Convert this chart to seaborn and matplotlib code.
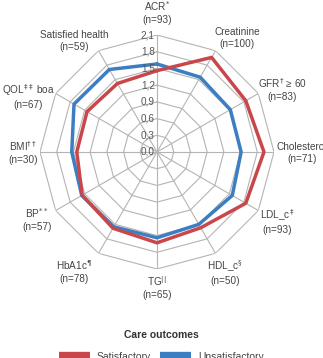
import numpy as np
import pandas as pd
import matplotlib
matplotlib.use("Agg")
import matplotlib.pyplot as plt
import seaborn as sns
from matplotlib.lines import Line2D
from matplotlib.transforms import offset_copy

categories = [
    r"ACR$^{*}$" + "\n(n=93)",
    "Creatinine\n(n=100)",
    r"GFR$^{\dagger}$ ≥ 60" + "\n(n=83)",
    "Cholesterol\n(n=71)",
    r"LDL_c$^{\ddagger}$" + "\n(n=93)",
    r"HDL_c$^{\S}$" + "\n(n=50)",
    r"TG$^{||}$" + "\n(n=65)",
    r"HbA1c$^{\P}$" + "\n(n=78)",
    r"BP$^{**}$" + "\n(n=57)",
    r"BMI$^{\dagger\dagger}$" + "\n(n=30)",
    r"QOL$^{\ddagger\ddagger}$ boa" + "\n(n=67)",
    "Satisfied health\n(n=59)",
]
satisfactory = [1.46, 1.96, 1.84, 1.92, 1.84, 1.57, 1.63, 1.58, 1.55, 1.44, 1.45, 1.42]
unsatisfactory = [1.58, 1.55, 1.52, 1.51, 1.56, 1.50, 1.54, 1.55, 1.56, 1.53, 1.72, 1.71]
tick_values = [0.0, 0.3, 0.6, 0.9, 1.2, 1.5, 1.8, 2.1]
tick_labels = ["0,0", "0,3", "0,6", "0,9", "1,2", "1,5", "1,8", "2,1"]
series_names = ["Satisfactory", "Unsatisfactory"]
colors = {"Satisfactory": "#C9474B", "Unsatisfactory": "#3B7EC2"}

sns.set_theme(style="white")
plt.rcParams["font.family"] = ["Liberation Sans", "DejaVu Sans"]
plt.rcParams["mathtext.fontset"] = "dejavusans"

n = len(categories)
theta = np.arange(n) * 2 * np.pi / n

rows = []
for name, vals in zip(series_names, [satisfactory, unsatisfactory]):
    for k in list(range(n)) + [0]:
        rows.append({"theta": theta[k], "value": vals[k], "group": name})
df = pd.DataFrame(rows)

W, H = 323, 358
fig = plt.figure(figsize=(W / 100, H / 100), dpi=100)
cx, cy, R = 157, 152, 117
ax = fig.add_axes([(cx - R) / W, (H - cy - R) / H, 2 * R / W, 2 * R / H], projection="polar")
ax.set_theta_offset(np.pi / 2)
ax.set_theta_direction(-1)
ax.set_ylim(0, 2.1)
ax.grid(False)
ax.spines["polar"].set_visible(False)
ax.set_xticks([])
ax.set_yticks([])
ax.patch.set_alpha(0)

grid_c = "#b4b4b4"
closed = np.append(theta, theta[0])
for v in tick_values[1:]:
    ax.plot(closed, [v] * (n + 1), color=grid_c, lw=0.8, zorder=1)
for t in theta:
    ax.plot([t, t], [0, 2.1], color=grid_c, lw=0.8, zorder=1)

for name in ["Unsatisfactory", "Satisfactory"]:
    sub = df[df["group"] == name]
    sns.lineplot(data=sub, x="theta", y="value", sort=False, estimator=None,
                 color=colors[name], lw=2.5, ax=ax, zorder=3)
ax.set_xlabel("")
ax.set_ylabel("")

tr = offset_copy(ax.transData, fig=fig, x=-1.5, y=0, units="points")
for v, lab in zip(tick_values, tick_labels):
    ax.text(0, v, lab, transform=tr, ha="right", va="center", fontsize=7.2, color="#555555", zorder=4)

# label placement (compass degrees, radius in data units)
label_deg = [0, 35, 63.4, 90.5, 120, 150.5, 180, 215, 240.6, 270, 293.5, 323.3]
label_r = [2.51, 2.50, 2.51, 2.60, 2.50, 2.48, 2.42, 2.60, 2.47, 2.41, 2.52, 2.49]
for d, lab, r in zip(label_deg, categories, label_r):
    ax.text(np.deg2rad(d), r, lab, ha="center", va="center", fontsize=7.2, color="#444444",
            linespacing=1.25)

fig.text(0.5, 1 - 335 / H, "Care outcomes", ha="center", va="center", fontsize=7.5,
         fontweight="bold", color="#333333")
handles = [Line2D([0], [0], color=colors[s], lw=6, solid_capstyle="butt") for s in series_names]
leg = fig.legend(handles, series_names, loc="center", bbox_to_anchor=(0.5, 1.5 / H),
                 ncol=2, frameon=False, fontsize=7.5,
                 handlelength=2.9, columnspacing=0.9, handletextpad=0.7, borderaxespad=0)
for t in leg.get_texts():
    t.set_color("#444444")

fig.savefig("out.png", dpi=100)
